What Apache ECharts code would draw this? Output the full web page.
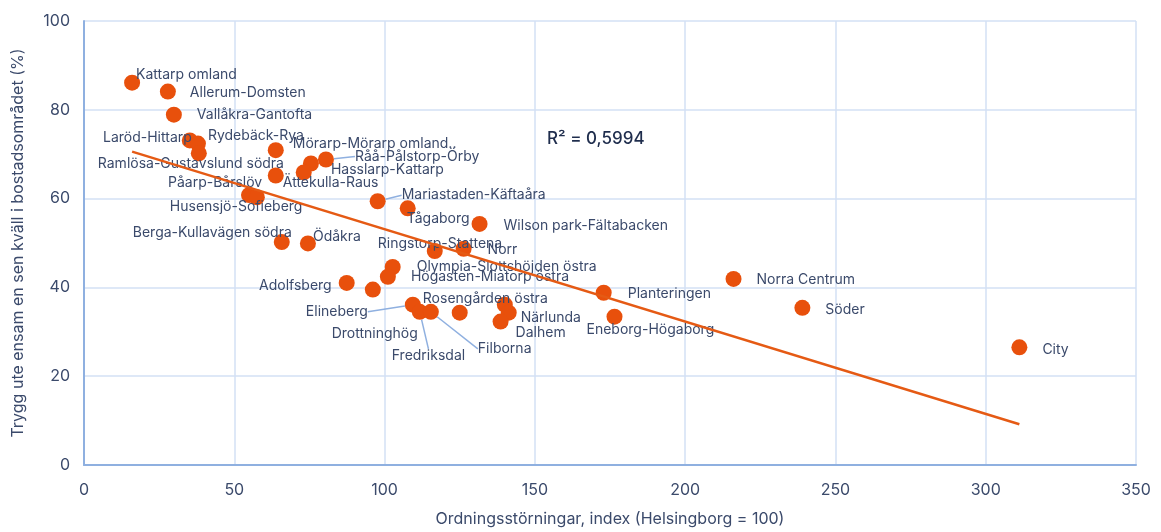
<!DOCTYPE html>
<html>
<head>
<meta charset="utf-8">
<script src="https://cdn.jsdelivr.net/npm/echarts@6/dist/echarts.min.js"></script>
<style>
    html, body { margin: 0; padding: 0; background: #fff; }
    #chart { width: 1161px; height: 532px; }
</style>
</head>
<body>
<div id="chart"></div>
<script>
// data
var areaNames = [
    'Kattarp omland', 'Allerum-Domsten', 'Vallåkra-Gantofta', 'Laröd-Hittarp', 'Rydebäck-Rya',
    'Ramlösa-Gustavslund södra', 'Mörarp-Mörarp omland..', 'Hasslarp-Kattarp', 'Råå-Pålstorp-Örby', '',
    'Ättekulla-Raus', 'Påarp-Bårslöv', 'Husensjö-Sofieberg', 'Mariastaden-Käftaåra', 'Tågaborg',
    'Wilson park-Fältabacken', 'Berga-Kullavägen södra', 'Ödåkra', 'Ringstorp-Stattena', 'Norr',
    'Olympia-Slottshöjden östra', 'Högasten-Miatorp östra', 'Adolfsberg', ' ', 'Elineberg',
    'Fredriksdal', 'Filborna', 'Drottninghög', 'Rosengården östra', 'Närlunda',
    'Dalhem', 'Planteringen', 'Eneborg-Högaborg', 'Norra Centrum', 'Söder', 'City'
];
var disorderIndex = [
    16.0, 27.9, 29.9, 35.2, 37.9,
    38.2, 63.8, 75.5, 80.5, 73.1,
    63.8, 54.9, 57.5, 97.7, 107.7,
    131.6, 65.8, 74.5, 116.7, 126.3,
    102.7, 101.1, 87.4, 96.1, 109.4,
    111.7, 115.4, 125.0, 140.0, 141.3,
    138.6, 172.9, 176.5, 216.1, 239.0, 311.2
];
var feelSafe = [
    86.1, 84.1, 78.9, 73.1, 72.4,
    70.2, 70.9, 67.9, 68.8, 65.9,
    65.2, 60.8, 60.3, 59.4, 57.8,
    54.3, 50.2, 49.9, 48.2, 48.7,
    44.6, 42.4, 41.0, 39.5, 36.1,
    34.5, 34.5, 34.3, 36.1, 34.3,
    32.3, 38.8, 33.4, 41.9, 35.4, 26.5
];
var xTicks = [0, 50, 100, 150, 200, 250, 300, 350];
var yTicks = [0, 20, 40, 60, 80, 100];
var rSquaredText = 'R² = 0,5994';

// where each label sits relative to its dot: [dx, dy, align, leader line]
var labelPlace = {
    'Kattarp omland': [4, -8, 'left'],
    'Allerum-Domsten': [22, 1, 'left'],
    'Vallåkra-Gantofta': [23, 0, 'left'],
    'Laröd-Hittarp': [2, -3, 'right'],
    'Rydebäck-Rya': [10, -8, 'left'],
    'Ramlösa-Gustavslund södra': [-101, 10, 'left'],
    'Mörarp-Mörarp omland..': [17, -6, 'left'],
    'Hasslarp-Kattarp': [20, 6, 'left'],
    'Råå-Pålstorp-Örby': [29, -3, 'left', true],
    'Ättekulla-Raus': [7, 7, 'left'],
    'Påarp-Bårslöv': [-81, -12, 'left'],
    'Husensjö-Sofieberg': [-87, 10, 'left'],
    'Mariastaden-Käftaåra': [24, -6, 'left', true],
    'Tågaborg': [-1, 10, 'left'],
    'Wilson park-Fältabacken': [24, 2, 'left'],
    'Berga-Kullavägen södra': [-149, -9, 'left'],
    'Ödåkra': [5, -7, 'left'],
    'Ringstorp-Stattena': [-57, -7, 'left'],
    'Norr': [24, 1, 'left'],
    'Olympia-Slottshöjden östra': [24, 0, 'left'],
    'Högasten-Miatorp östra': [23, 0, 'left'],
    'Adolfsberg': [-15, 3, 'right'],
    'Elineberg': [-45, 7, 'right', true],
    'Fredriksdal': [-28, 44, 'left', true],
    'Filborna': [47, 37, 'left', true],
    'Drottninghög': [-128, 21, 'left'],
    'Rosengården östra': [-82, -6, 'left'],
    'Närlunda': [12, 5, 'left'],
    'Dalhem': [15, 11, 'left'],
    'Planteringen': [24, 1, 'left'],
    'Eneborg-Högaborg': [-28, 13, 'left'],
    'Norra Centrum': [23, 1, 'left'],
    'Söder': [23, 2, 'left'],
    'City': [23, 2, 'left']
};

var textColor = '#3b4a6b';
var dotColor = '#e8500c';
var dotSize = 16;

// linjär trendlinje (minsta kvadrat)
var n = disorderIndex.length, sx = 0, sy = 0, sxx = 0, sxy = 0;
for (let i = 0; i < n; i++) {
    sx += disorderIndex[i];
    sy += feelSafe[i];
    sxx += disorderIndex[i] * disorderIndex[i];
    sxy += disorderIndex[i] * feelSafe[i];
}
var slope = (n * sxy - sx * sy) / (n * sxx - sx * sx);
var intercept = (sy - slope * sx) / n;
var xMin = Math.min.apply(null, disorderIndex);
var xMax = Math.max.apply(null, disorderIndex);
var trendData = [[xMin, intercept + slope * xMin], [xMax, intercept + slope * xMax]];

var points = [];
for (let i = 0; i < n; i++) {
    var item = { name: areaNames[i], value: [disorderIndex[i], feelSafe[i]] };
    var p = labelPlace[areaNames[i]];
    if (p) {
        item.label = {
            show: true,
            position: [dotSize / 2 + p[0], dotSize / 2 + p[1]],
            align: p[2],
            verticalAlign: 'middle'
        };
        if (p[3]) {
            item.labelLine = { show: true, lineStyle: { color: '#8fb0e0', width: 1.5 } };
        }
    }
    points.push(item);
}

var chart = echarts.init(document.getElementById('chart'));
var option = {
    animation: false,
    grid: { left: 84, right: 25, top: 21, bottom: 63 },
    xAxis: {
        type: 'value',
        min: xTicks[0],
        max: xTicks[xTicks.length - 1],
        interval: xTicks[1] - xTicks[0],
        name: 'Ordningsstörningar, index (Helsingborg = 100)',
        nameLocation: 'middle',
        nameGap: 46,
        nameTextStyle: { color: textColor, fontSize: 16, fontFamily: 'Inter' },
        axisLine: { show: true, lineStyle: { color: '#8fb0e0', width: 2 } },
        axisTick: { show: false },
        axisLabel: { color: textColor, fontSize: 16, fontFamily: 'Inter', margin: 17 },
        splitLine: { show: true, lineStyle: { color: '#d3e0f4', width: 1.5 } }
    },
    yAxis: {
        type: 'value',
        min: yTicks[0],
        max: yTicks[yTicks.length - 1],
        interval: yTicks[1] - yTicks[0],
        name: 'Trygg ute ensam en sen kväll i bostadsområdet (%)',
        nameLocation: 'middle',
        nameGap: 58,
        nameTextStyle: { color: textColor, fontSize: 16, fontFamily: 'Inter' },
        axisLine: { show: true, lineStyle: { color: '#8fb0e0', width: 2 } },
        axisTick: { show: false },
        axisLabel: { color: textColor, fontSize: 16, fontFamily: 'Inter', margin: 14 },
        splitLine: { show: true, lineStyle: { color: '#d3e0f4', width: 1.5 } }
    },
    graphic: [{
        type: 'text',
        left: 547,
        top: 130,
        style: { text: rSquaredText, fill: '#1f2d4d', fontSize: 17, fontWeight: 500, fontFamily: 'Inter' }
    }],
    series: [
        {
            type: 'line',
            data: trendData,
            showSymbol: false,
            symbol: 'none',
            lineStyle: { color: '#e55a14', width: 2.5 },
            z: 3,
            silent: true
        },
        {
            type: 'scatter',
            data: points,
            symbolSize: dotSize,
            itemStyle: { color: dotColor, opacity: 1 },
            label: {
                show: false,
                formatter: '{b}',
                color: textColor,
                fontSize: 14,
                fontFamily: 'Inter'
            },
            z: 2
        }
    ]
};
chart.setOption(option);
</script>
</body>
</html>
